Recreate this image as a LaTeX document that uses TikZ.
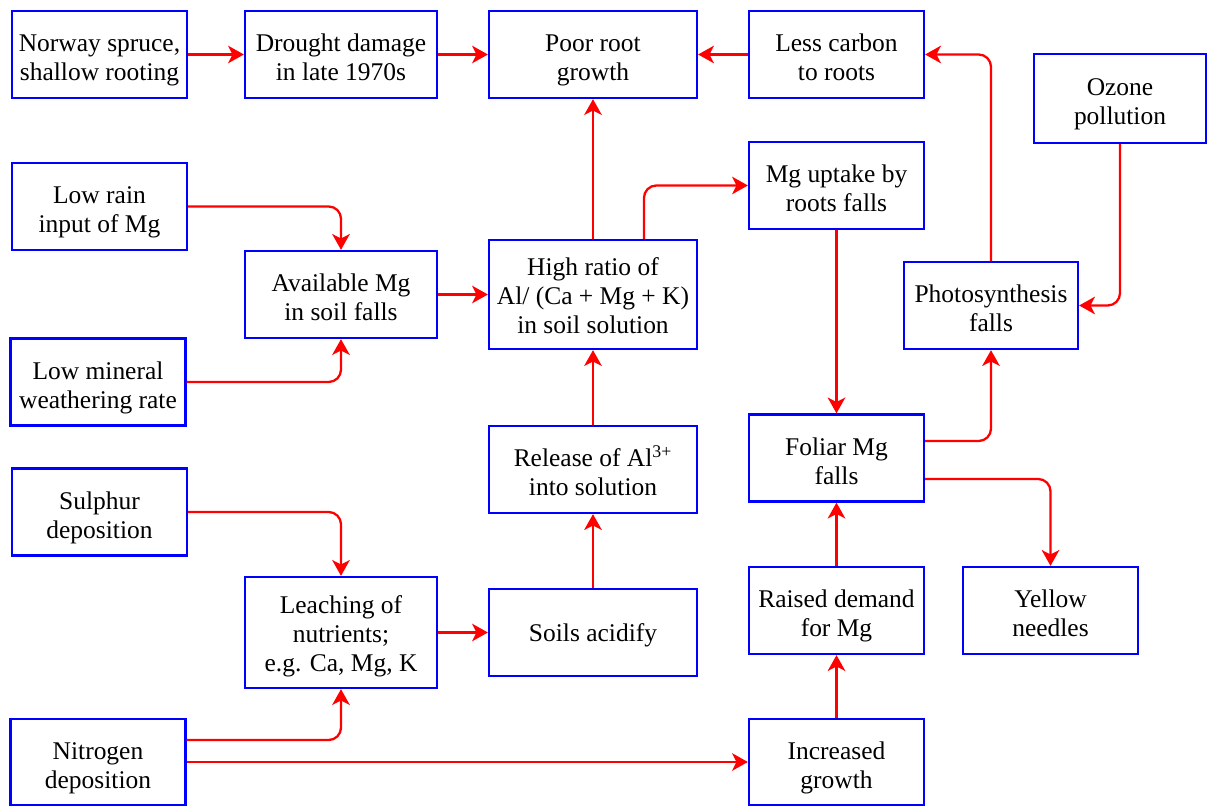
\documentclass[tikz,border=0pt]{standalone}
\usepackage{fontspec}
\setmainfont{Liberation Serif}
\usetikzlibrary{arrows.meta}

\begin{document}
\begin{tikzpicture}[x=0.02cm,y=-0.02cm,
	box/.style={draw=blue,line width=1.3pt,align=center,inner sep=2pt,minimum height=1.74cm,
		font=\fontsize{14.5}{16.5}\selectfont,text height=33.3pt,text depth=3.2pt},
	one/.style={text height=13.4pt},
	three/.style={text height=47.6pt},
	wa/.style={minimum width=3.5cm},
	wb/.style={minimum width=3.84cm},
	wc/.style={minimum width=4.16cm},
	arr/.style={red,line width=1.3pt,rounded corners=7pt,-{Stealth[length=9pt,width=10pt,inset=2.5pt]}}]
	\useasboundingbox (0,0) rectangle (1211,807);
	% left column
	\node[box,wa] (spruce) at (99.5,54.5) {Norway spruce,\\shallow rooting};
	\node[box,wa] (rain) at (99.5,206.5) {Low rain\\input of Mg};
	\node[box,wa] (mineral) at (98,382) {Low mineral\\weathering rate};
	\node[box,wa] (sulphur) at (99.5,512) {Sulphur\\deposition};
	\node[box,wa,minimum height=1.72cm] (nitrogen) at (98,762) {Nitrogen\\deposition};
	% second column
	\node[box,wb] (drought) at (341,54.5) {Drought damage\\in late 1970s};
	\node[box,wb] (avail) at (341,294.5) {Available Mg\\in soil falls};
	\node[box,wb,three,minimum height=2.22cm] (leach) at (341,632.5) {Leaching of\\nutrients;\\e.g. Ca, Mg, K};
	% third column
	\node[box,wc] (poor) at (593,54.5) {Poor root\\growth};
	\node[box,wc,three,minimum height=2.18cm] (ratio) at (593,294.5) {High ratio of\\Al/ (Ca + Mg + K)\\in soil solution};
	\node[box,wc] (release) at (593,469.5) {Release of Al\textsuperscript{3+}\\into solution};
	\node[box,wc,one] (soils) at (593,632.5) {Soils acidify};
	% fourth column
	\node[box,wa] (carbon) at (836.5,54.5) {Less carbon\\to roots};
	\node[box,wa] (uptake) at (836.5,185.5) {Mg uptake by\\roots falls};
	\node[box,wa] (foliar) at (836.5,458) {Foliar Mg\\falls};
	\node[box,wa] (raised) at (836.5,610.5) {Raised demand\\for Mg};
	\node[box,wa,minimum height=1.72cm] (growth) at (836.5,762) {Increased\\growth};
	% right
	\node[box,minimum width=3.44cm,minimum height=1.78cm] (ozone) at (1120,98.5) {Ozone\\pollution};
	\node[box,minimum width=3.48cm] (photo) at (991,305.5) {Photosynthesis\\falls};
	\node[box,wa] (yellow) at (1050.5,610.5) {Yellow\\needles};

	\foreach \a/\b in {spruce/drought,drought/poor,carbon/poor,uptake/foliar,ratio/poor,avail/ratio,
		release/ratio,soils/release,leach/soils,nitrogen/growth,growth/raised,raised/foliar}
		\draw[arr] (\a) -- (\b);
	\foreach \a/\b in {photo/carbon,ozone/photo}
		\draw[arr] (\a) |- (\b);
	\foreach \a/\b in {rain/avail,mineral/avail,sulphur/leach}
		\draw[arr] (\a) -| (\b);
	\draw[arr] ([xshift=1.02cm]ratio.north) |- (uptake);
	\draw[arr] ([yshift=0.44cm]nitrogen.east) -| (leach);
	\draw[arr] ([yshift=0.34cm]foliar.east) -| (photo);
	\draw[arr] ([yshift=-0.42cm]foliar.east) -| (yellow);
\end{tikzpicture}
\end{document}
